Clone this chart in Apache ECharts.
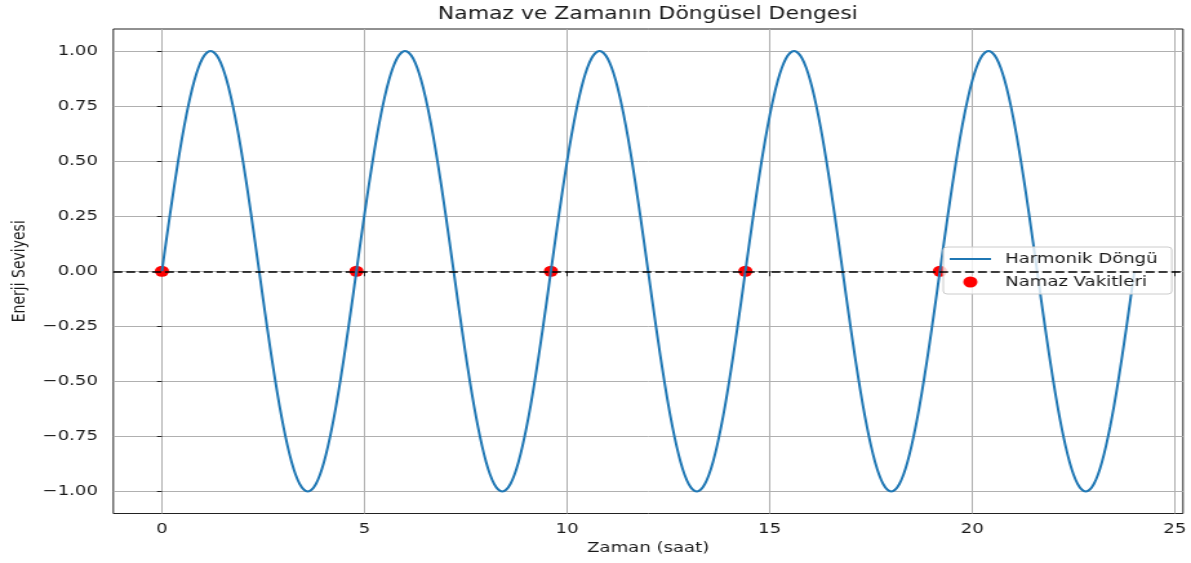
<!DOCTYPE html>
<html>
<head>
<meta charset="utf-8">
<script src="https://cdn.jsdelivr.net/npm/echarts@6/dist/echarts.min.js"></script>
<style>
  html, body { margin: 0; padding: 0; background: #ffffff; overflow: hidden; }
  #chart { width: 923px; height: 563px; transform: scaleX(1.29035); transform-origin: 0 0; }
</style>
</head>
<body>
<div id="chart"></div>
<script>
// ---- data ----
const chartTitle = 'Namaz ve Zamanın Döngüsel Dengesi';
const xName = 'Zaman (saat)';
const yName = 'Enerji Seviyesi';
const lineName = 'Harmonik Döngü';
const pointName = 'Namaz Vakitleri';

const hours = [
  0, 0.1, 0.2, 0.3, 0.4, 0.5, 0.6, 0.7, 0.8, 0.9,
  1, 1.1, 1.2, 1.3, 1.4, 1.5, 1.6, 1.7, 1.8, 1.9,
  2, 2.1, 2.2, 2.3, 2.4, 2.5, 2.6, 2.7, 2.8, 2.9,
  3, 3.1, 3.2, 3.3, 3.4, 3.5, 3.6, 3.7, 3.8, 3.9,
  4, 4.1, 4.2, 4.3, 4.4, 4.5, 4.6, 4.7, 4.8, 4.9,
  5, 5.1, 5.2, 5.3, 5.4, 5.5, 5.6, 5.7, 5.8, 5.9,
  6, 6.1, 6.2, 6.3, 6.4, 6.5, 6.6, 6.7, 6.8, 6.9,
  7, 7.1, 7.2, 7.3, 7.4, 7.5, 7.6, 7.7, 7.8, 7.9,
  8, 8.1, 8.2, 8.3, 8.4, 8.5, 8.6, 8.7, 8.8, 8.9,
  9, 9.1, 9.2, 9.3, 9.4, 9.5, 9.6, 9.7, 9.8, 9.9,
  10, 10.1, 10.2, 10.3, 10.4, 10.5, 10.6, 10.7, 10.8, 10.9,
  11, 11.1, 11.2, 11.3, 11.4, 11.5, 11.6, 11.7, 11.8, 11.9,
  12, 12.1, 12.2, 12.3, 12.4, 12.5, 12.6, 12.7, 12.8, 12.9,
  13, 13.1, 13.2, 13.3, 13.4, 13.5, 13.6, 13.7, 13.8, 13.9,
  14, 14.1, 14.2, 14.3, 14.4, 14.5, 14.6, 14.7, 14.8, 14.9,
  15, 15.1, 15.2, 15.3, 15.4, 15.5, 15.6, 15.7, 15.8, 15.9,
  16, 16.1, 16.2, 16.3, 16.4, 16.5, 16.6, 16.7, 16.8, 16.9,
  17, 17.1, 17.2, 17.3, 17.4, 17.5, 17.6, 17.7, 17.8, 17.9,
  18, 18.1, 18.2, 18.3, 18.4, 18.5, 18.6, 18.7, 18.8, 18.9,
  19, 19.1, 19.2, 19.3, 19.4, 19.5, 19.6, 19.7, 19.8, 19.9,
  20, 20.1, 20.2, 20.3, 20.4, 20.5, 20.6, 20.7, 20.8, 20.9,
  21, 21.1, 21.2, 21.3, 21.4, 21.5, 21.6, 21.7, 21.8, 21.9,
  22, 22.1, 22.2, 22.3, 22.4, 22.5, 22.6, 22.7, 22.8, 22.9,
  23, 23.1, 23.2, 23.3, 23.4, 23.5, 23.6, 23.7, 23.8, 23.9,
  24
];
const energy = [
  // 0 - 4.7 h
  0, 0.131, 0.259, 0.383, 0.5, 0.609, 0.707, 0.793, 0.866, 0.924, 0.966, 0.991,
  1, 0.991, 0.966, 0.924, 0.866, 0.793, 0.707, 0.609, 0.5, 0.383, 0.259, 0.131,
  0, -0.131, -0.259, -0.383, -0.5, -0.609, -0.707, -0.793, -0.866, -0.924, -0.966, -0.991,
  -1, -0.991, -0.966, -0.924, -0.866, -0.793, -0.707, -0.609, -0.5, -0.383, -0.259, -0.131,
  // 4.8 - 9.5 h
  0, 0.131, 0.259, 0.383, 0.5, 0.609, 0.707, 0.793, 0.866, 0.924, 0.966, 0.991,
  1, 0.991, 0.966, 0.924, 0.866, 0.793, 0.707, 0.609, 0.5, 0.383, 0.259, 0.131,
  0, -0.131, -0.259, -0.383, -0.5, -0.609, -0.707, -0.793, -0.866, -0.924, -0.966, -0.991,
  -1, -0.991, -0.966, -0.924, -0.866, -0.793, -0.707, -0.609, -0.5, -0.383, -0.259, -0.131,
  // 9.6 - 14.3 h
  0, 0.131, 0.259, 0.383, 0.5, 0.609, 0.707, 0.793, 0.866, 0.924, 0.966, 0.991,
  1, 0.991, 0.966, 0.924, 0.866, 0.793, 0.707, 0.609, 0.5, 0.383, 0.259, 0.131,
  0, -0.131, -0.259, -0.383, -0.5, -0.609, -0.707, -0.793, -0.866, -0.924, -0.966, -0.991,
  -1, -0.991, -0.966, -0.924, -0.866, -0.793, -0.707, -0.609, -0.5, -0.383, -0.259, -0.131,
  // 14.4 - 19.1 h
  0, 0.131, 0.259, 0.383, 0.5, 0.609, 0.707, 0.793, 0.866, 0.924, 0.966, 0.991,
  1, 0.991, 0.966, 0.924, 0.866, 0.793, 0.707, 0.609, 0.5, 0.383, 0.259, 0.131,
  0, -0.131, -0.259, -0.383, -0.5, -0.609, -0.707, -0.793, -0.866, -0.924, -0.966, -0.991,
  -1, -0.991, -0.966, -0.924, -0.866, -0.793, -0.707, -0.609, -0.5, -0.383, -0.259, -0.131,
  // 19.2 - 23.9 h
  0, 0.131, 0.259, 0.383, 0.5, 0.609, 0.707, 0.793, 0.866, 0.924, 0.966, 0.991,
  1, 0.991, 0.966, 0.924, 0.866, 0.793, 0.707, 0.609, 0.5, 0.383, 0.259, 0.131,
  0, -0.131, -0.259, -0.383, -0.5, -0.609, -0.707, -0.793, -0.866, -0.924, -0.966, -0.991,
  -1, -0.991, -0.966, -0.924, -0.866, -0.793, -0.707, -0.609, -0.5, -0.383, -0.259, -0.131,
  // 24 h
  0
];
const prayerTimes = [0, 4.8, 9.6, 14.4, 19.2];
const prayerLevels = [0, 0, 0, 0, 0];
const xTicks = [0, 5, 10, 15, 20, 25];
const yTicks = [-1, -0.75, -0.5, -0.25, 0, 0.25, 0.5, 0.75, 1];

// ---- chart ----
const font = 'DejaVu Sans';
const fmtY = v => (v < 0 ? '\u2212' : '') + Math.abs(v).toFixed(2);
const fmtX = v => (v < 0 ? '\u2212' : '') + Math.abs(v);

const chart = echarts.init(document.getElementById('chart'), null, { renderer: 'canvas' });
chart.setOption({
  animation: false,
  backgroundColor: '#ffffff',
  textStyle: { fontFamily: font },
  graphic: [{
    type: 'text',
    x: 502, y: 14.5,
    style: {
      text: chartTitle, fill: '#1a1a1a', font: '17px "DejaVu Sans"',
      textAlign: 'center', textVerticalAlign: 'middle'
    }
  }],
  grid: {
    left: 86.8, right: 6.2, top: 29, bottom: 49.5,
    show: true, borderColor: '#222', borderWidth: 1, backgroundColor: 'transparent'
  },
  legend: {
    left: 731, top: 247, orient: 'vertical',
    itemWidth: 32, itemHeight: 11, itemGap: 9,
    padding: [5, 11, 5, 4],
    backgroundColor: 'rgba(255,255,255,0.8)',
    borderColor: '#cccccc', borderWidth: 1, borderRadius: 3,
    selectedMode: false,
    textStyle: { fontFamily: font, fontSize: 14, color: '#1a1a1a', padding: [0, 0, 0, 6] },
    data: [
      { name: lineName, itemStyle: { color: 'rgba(0,0,0,0)', borderWidth: 0 } },
      { name: pointName }
    ]
  },
  xAxis: {
    type: 'value', min: -1.2, max: 25.2, minInterval: 5, maxInterval: 5,
    name: xName, nameLocation: 'middle', nameGap: 28,
    nameTextStyle: { fontFamily: font, fontSize: 14, color: '#1a1a1a' },
    axisLine: { show: false },
    axisTick: { show: true, length: 5, customValues: xTicks, lineStyle: { color: '#222', width: 1 } },
    axisLabel: { margin: 9, customValues: xTicks, fontFamily: font, fontSize: 14, color: '#1a1a1a', formatter: fmtX },
    splitLine: { show: true, lineStyle: { color: '#b0b0b0', width: 1 } }
  },
  yAxis: {
    type: 'value', min: -1.1, max: 1.1, minInterval: 0.25, maxInterval: 0.25,
    name: yName, nameLocation: 'middle', nameGap: 65, nameRotate: 90,
    nameTextStyle: { fontFamily: font, fontSize: 14, color: '#1a1a1a' },
    axisLine: { show: false },
    axisTick: { show: true, length: 3.8, customValues: yTicks, lineStyle: { color: '#222', width: 1 } },
    axisLabel: { margin: 12, customValues: yTicks, fontFamily: font, fontSize: 14, color: '#1a1a1a', formatter: fmtY },
    splitLine: { show: true, lineStyle: { color: '#b0b0b0', width: 1 } }
  },
  series: [
    {
      name: lineName, type: 'line', z: 3,
      data: hours.map((h, i) => [h, energy[i]]),
      smooth: 0.3, symbol: 'none', showSymbol: false,
      color: '#1f77b4',
      lineStyle: { color: '#1f77b4', width: 2 },
      markLine: {
        silent: true, symbol: 'none', label: { show: false },
        lineStyle: { color: '#000000', type: [7, 3], width: 1.5 },
        data: [{ yAxis: 0 }]
      }
    },
    {
      name: pointName, type: 'scatter', z: 1,
      data: prayerTimes.map((t, i) => [t, prayerLevels[i]]),
      symbol: 'circle', symbolSize: 11,
      itemStyle: { color: '#ff0000', opacity: 1 }
    }
  ]
});
</script>
</body>
</html>
